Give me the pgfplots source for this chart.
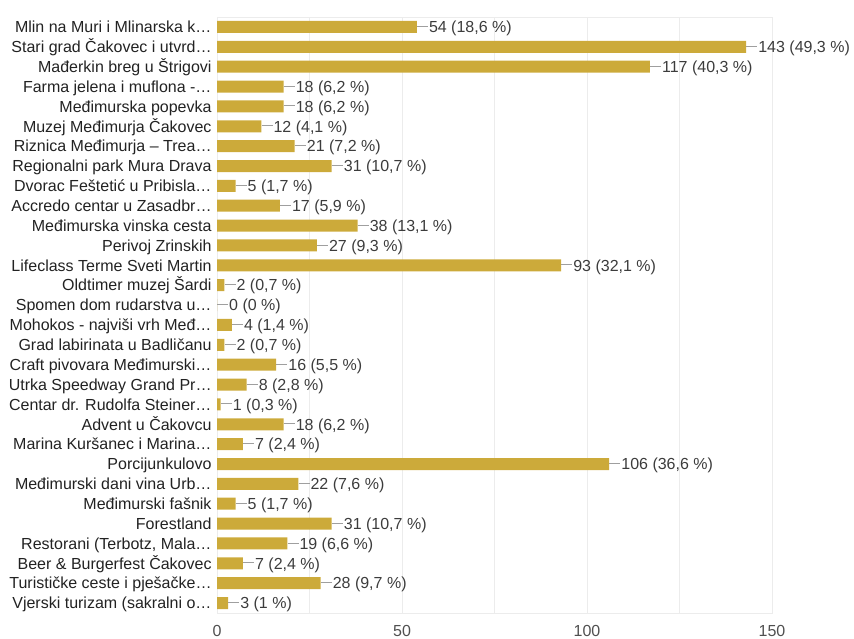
\documentclass[border=0pt]{standalone}
\usepackage{pgfplots}
\pgfplotsset{compat=1.18}
\usepackage{pgfplotstable}
\usepackage{fontspec}
\setmainfont{Liberation Sans}
\definecolor{barc}{RGB}{204,170,58}
\definecolor{gridc}{RGB}{236,236,236}
\definecolor{txt}{RGB}{34,34,34}
\definecolor{vtxt}{RGB}{60,60,60}
\definecolor{ticktxt}{RGB}{80,80,80}

\pgfplotstableread[col sep=semicolon]{
x;y;lab
54;0;54 (18,6 \%)
143;1;143 (49,3 \%)
117;2;117 (40,3 \%)
18;3;18 (6,2 \%)
18;4;18 (6,2 \%)
12;5;12 (4,1 \%)
21;6;21 (7,2 \%)
31;7;31 (10,7 \%)
5;8;5 (1,7 \%)
17;9;17 (5,9 \%)
38;10;38 (13,1 \%)
27;11;27 (9,3 \%)
93;12;93 (32,1 \%)
2;13;2 (0,7 \%)
0;14;0 (0 \%)
4;15;4 (1,4 \%)
2;16;2 (0,7 \%)
16;17;16 (5,5 \%)
8;18;8 (2,8 \%)
1;19;1 (0,3 \%)
18;20;18 (6,2 \%)
7;21;7 (2,4 \%)
106;22;106 (36,6 \%)
22;23;22 (7,6 \%)
5;24;5 (1,7 \%)
31;25;31 (10,7 \%)
19;26;19 (6,6 \%)
7;27;7 (2,4 \%)
28;28;28 (9,7 \%)
3;29;3 (1 \%)
}\datatable

\begin{document}
\begin{tikzpicture}[x=1pt,y=1pt]
\path[use as bounding box] (0,0) rectangle (854,639);
\begin{axis}[
  at={(217pt,26pt)}, anchor=south west,
  scale only axis,
  width=555pt, height=596pt,
  xmin=0, xmax=150,
  ymin=-0.5, ymax=29.5,
  y dir=reverse,
  xbar, bar width=12pt,
  bar shift=0pt,
  xtick={50,100,150},
  minor xtick={25,75,125},
  extra x ticks={0},
  extra x tick style={grid style={draw=black!75, line width=1pt}},
  xmajorgrids, xminorgrids,
  major grid style={draw=gridc, line width=0.8pt},
  minor grid style={draw=gridc, line width=0.8pt},
  axis line style={draw=gridc},
  tick style={draw=none},
  ytick={0,...,29},
  yticklabels={
    Mlin na Muri i Mlinarska k…,
    Stari grad Čakovec i utvrd…,
    Mađerkin breg u Štrigovi,
    Farma jelena i muflona -…,
    Međimurska popevka,
    Muzej Međimurja Čakovec,
    Riznica Međimurja – Trea…,
    Regionalni park Mura Drava,
    Dvorac Feštetić u Pribisla…,
    Accredo centar u Zasadbr…,
    Međimurska vinska cesta,
    Perivoj Zrinskih,
    Lifeclass Terme Sveti Martin,
    Oldtimer muzej Šardi,
    Spomen dom rudarstva u…,
    Mohokos - najviši vrh Međ…,
    Grad labirinata u Badličanu,
    Craft pivovara Međimurski…,
    Utrka Speedway Grand Pr…,
    Centar dr. Rudolfa Steiner…,
    Advent u Čakovcu,
    Marina Kuršanec i Marina…,
    Porcijunkulovo,
    Međimurski dani vina Urb…,
    Međimurski fašnik,
    Forestland,
    {Restorani (Terbotz, Mala…},
    Beer \& Burgerfest Čakovec,
    Turističke ceste i pješačke…,
    Vjerski turizam (sakralni o…
  },
  yticklabel style={font=\fontsize{16}{18}\selectfont, text=txt, inner sep=0pt, anchor=east, text height=12pt, text depth=0.5pt, xshift=-1pt},
  xticklabel style={font=\fontsize{16}{18}\selectfont, text=ticktxt, yshift=-9pt},
  /pgf/number format/assume math mode=true,
  point meta=explicit symbolic,
  nodes near coords={\textcolor{gray!75}{\rule[0.36em]{11pt}{0.9pt}}\kern1pt\pgfplotspointmeta},
  every node near coord/.append style={anchor=west, inner sep=0pt, font=\fontsize{16}{18}\selectfont, text=vtxt, text height=12pt, text depth=0.5pt},
]
\addplot[fill=barc, draw=none] table[x=x, y=y, meta=lab] {\datatable};
\end{axis}
\end{tikzpicture}
\end{document}
